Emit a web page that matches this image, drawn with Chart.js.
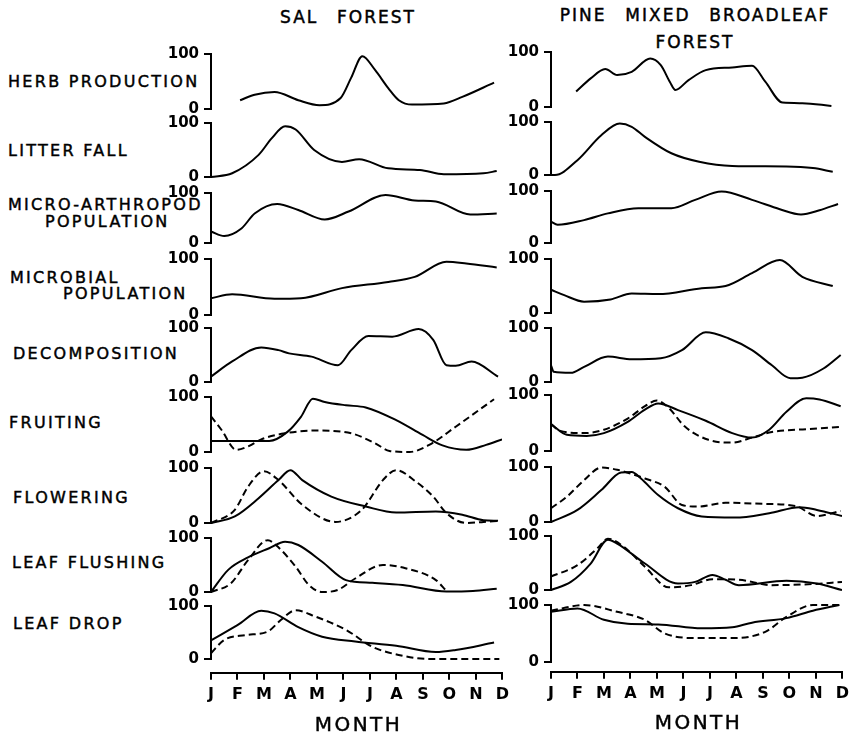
<!DOCTYPE html>
<html>
<head>
<meta charset="utf-8">
<script src="https://cdn.jsdelivr.net/npm/chart.js@4.4.1/dist/chart.umd.min.js"></script>
<style>
  html, body { margin: 0; padding: 0; background: #fff; }
  #page { position: relative; width: 852px; height: 737px; overflow: hidden; background: #fff;
          font-family: 'DejaVu Sans', sans-serif; color: #000; }
  .txt { position: absolute; white-space: pre; font-weight: normal; -webkit-text-stroke: 0.45px #000; }
  .panel { position: absolute; }
  .panel canvas { display: block; }
</style>
</head>
<body>
<div id="page"></div>
<script>
// ---- axis labels -------------------------------------------------------
const months = ['J', 'F', 'M', 'A', 'M', 'J', 'J', 'A', 'S', 'O', 'N', 'D'];
const yTicks = [0, 100];
const rowTitles = [
  ['HERB PRODUCTION'], ['LITTER FALL'], ['MICRO-ARTHROPOD', 'POPULATION'],
  ['MICROBIAL', 'POPULATION'], ['DECOMPOSITION'], ['FRUITING'], ['FLOWERING'],
  ['LEAF FLUSHING'], ['LEAF DROP']
];
const columnTitles = [['SAL  FOREST'], ['PINE  MIXED  BROADLEAF', 'FOREST']];

// ---- relative values (% of maximum), as [month position, value] --------
// month position: 0 = January ... 11 = December
// Sal forest
const salHerb = [[1.1,16],[1.65,26],[2.4,31],[3.3,16],[4.1,7],[4.9,20],[5.3,57],[5.72,96],[6.2,71],[6.7,38],[7.1,16],[7.6,8],[8.8,10],[9.5,22],[10.7,48]];
const salLitter = [[0,0],[0.8,7],[1.8,41],[2.3,72],[2.8,94],[3.2,88],[3.9,50],[4.95,28],[5.6,33],[6.7,16],[7.9,13],[8.8,5],[10.3,7],[10.8,11]];
const salArthropod = [[0,23],[0.5,14],[1.15,29],[1.65,59],[2.5,78],[3.3,66],[4.3,47],[5.2,63],[6.6,96],[7.7,85],[8.5,83],[9.8,57],[10.8,59]];
const salMicrobial = [[0,30],[0.8,37],[2.4,29],[3.4,30],[4.95,48],[6.7,59],[7.7,68],[8.9,95],[9.65,92],[10.8,85]];
const salDecomposition = [[0,10],[0.8,38],[1.9,64],[2.55,59],[2.95,53],[3.8,47],[4.8,31],[5.3,59],[5.95,85],[6.85,84],[7.85,98],[8.4,78],[8.9,31],[9.25,30],[9.85,38],[10.85,10]];
const salFruitingA = [[0,20],[2.2,20],[2.9,37],[3.4,64],[3.85,97],[4.3,91],[5.1,85],[5.85,81],[7,58],[8,31],[8.75,12],[9.65,4],[10.4,13],[11,23]];
const salFruitingB = [[0,65],[0.4,40],[0.95,4],[1.4,10],[1.9,23],[2.8,34],[3.95,39],[5.3,34],[6.2,16],[6.75,2],[7.5,0],[8.25,13],[9.25,46],[10.7,96]];
const salFloweringA = [[0,0],[0.9,12],[1.8,45],[2.55,78],[3,96],[3.45,78],[4.55,48],[5.85,30],[7,19],[8.5,21],[9.5,15],[10.3,5],[10.85,4]];
const salFloweringB = [[0,0],[0.9,24],[1.4,66],[2,94],[2.55,78],[3.45,33],[4.7,2],[5.7,24],[6.5,78],[7,96],[7.75,75],[8.4,48],[8.9,18],[9.65,0],[10.3,2],[10.85,4]];
const salFlushingA = [[0,0],[0.65,41],[1.4,64],[2.2,81],[2.8,93],[3.3,87],[4.2,56],[5.1,22],[6.1,17],[7.25,13],[8.9,1],[9.9,2],[10.8,6]];
const salFlushingB = [[0,0],[0.75,16],[1.4,59],[2.15,96],[2.45,87],[3.2,47],[3.7,13],[4.2,0],[4.8,4],[5.45,25],[6.5,50],[7.35,44],[8.5,22],[8.9,2]];
const salLeafDropA = [[0,35],[1,64],[1.9,91],[2.4,86],[3.3,60],[4.2,42],[5.45,33],[7,25],[8.5,13],[9.25,17],[10.7,31]];
const salLeafDropB = [[0,11],[0.5,36],[1.3,45],[2.15,52],[2.65,74],[3.2,92],[3.95,80],[5.1,55],[6.1,23],[7.25,6],[8.25,0],[10.9,0]];
// Pine mixed broadleaf forest
const pineHerb = [[0.95,28],[1.5,52],[2.05,69],[2.5,58],[3.05,64],[3.75,88],[4.15,76],[4.5,45],[4.7,31],[5.2,49],[5.85,67],[6.85,72],[7.6,75],[8.1,46],[8.75,8],[9.5,7],[10.6,2]];
const pineLitter = [[0,0],[0.15,0],[1,28],[1.9,75],[2.6,97],[3.05,91],[3.55,72],[4.55,41],[5.6,25],[6.85,17],[8.9,16],[9.9,13],[10.65,6]];
const pineArthropod = [[0,41],[0.25,35],[1.25,44],[2.15,57],[3.3,67],[4.55,67],[5.45,83],[6.45,99],[7.6,83],[8.65,65],[9.45,55],[10.15,63],[10.85,75]];
const pineMicrobial = [[0,43],[0.5,33],[1.25,21],[2.25,25],[3.05,36],[4.05,35],[5.7,46],[6.6,50],[7.6,74],[8.65,98],[9.5,67],[10.65,50]];
const pineDecomposition = [[0,31],[0.1,19],[0.75,17],[1.25,28],[2.15,47],[3.05,42],[4.15,44],[4.95,59],[5.85,92],[6.7,81],[7.6,59],[8.35,31],[9.05,7],[9.5,8],[10.3,25],[10.95,50]];
const pineFruitingA = [[0,48],[0.6,29],[1.35,27],[2,32],[2.9,52],[3.55,74],[4.05,85],[4.8,73],[5.85,54],[6.85,32],[7.6,24],[8.25,38],[8.9,70],[9.65,94],[10.15,92],[10.95,80]];
const pineFruitingB = [[0,48],[0.35,36],[1.25,32],[2,38],[2.9,58],[3.55,80],[4,90],[4.45,77],[5.05,44],[5.95,20],[6.85,15],[7.6,24],[8.35,34],[9.65,39],[10.95,43]];
const pineFloweringA = [[0,0],[1,22],[1.9,58],[2.65,90],[3.05,91],[3.4,79],[4.05,49],[4.8,25],[5.7,10],[6.95,8],[8.25,16],[9.4,27],[10.05,22],[11,11]];
const pineFloweringB = [[0,25],[0.6,46],[1.25,76],[1.9,99],[2.5,95],[3.55,79],[4.3,64],[4.95,31],[5.55,28],[6.6,35],[8,33],[9.25,29],[10.05,11],[10.95,20]];
const pineFlushingA = [[0,0],[0.75,15],[1.5,49],[2.15,93],[2.5,86],[3.55,49],[4.8,12],[5.45,15],[6.1,28],[6.6,19],[7.1,9],[8.9,17],[10.05,12],[11,0]];
const pineFlushingB = [[0,25],[1,46],[1.75,77],[2.15,95],[2.75,80],[3.55,43],[4.45,5],[5.3,9],[6.1,20],[7.1,19],[8.35,9],[9.9,11],[11,15]];
const pineLeafDropA = [[0,88],[1,94],[2,74],[2.9,67],[4.05,66],[5.7,59],[6.85,61],[7.6,69],[8.9,77],[9.9,90],[10.9,100]];
const pineLeafDropB = [[0,90],[1.25,100],[2.5,88],[3.55,74],[4.3,50],[5.55,42],[6.95,42],[8.1,53],[8.9,79],[9.9,100],[10.9,100]];

const salRows = [
  [salHerb], [salLitter], [salArthropod], [salMicrobial], [salDecomposition],
  [salFruitingA, salFruitingB], [salFloweringA, salFloweringB],
  [salFlushingA, salFlushingB], [salLeafDropA, salLeafDropB]
];
const pineRows = [
  [pineHerb], [pineLitter], [pineArthropod], [pineMicrobial], [pineDecomposition],
  [pineFruitingA, pineFruitingB], [pineFloweringA, pineFloweringB],
  [pineFlushingA, pineFlushingB], [pineLeafDropA, pineLeafDropB]
];

// ---- page layout (pixels) ----------------------------------------------
const columns = [
  { left: 211, right: 502, axisY: 673, monthY: 724,
    bands: [[54,109],[123,177],[193,243],[259,315],[328,382],[397,452],[468,523],[538,592],[606,659]],
    rows: salRows, titleX: 348, titleY: [17] },
  { left: 551, right: 842, axisY: 672, monthY: 722,
    bands: [[52,107],[122,175],[191,243],[259,313],[328,382],[395,451],[467,522],[536,590],[605,662]],
    rows: pineRows, titleX: 695, titleY: [15, 42] }
];
const rowTitlePos = [
  [[8, 82]], [[8, 151]], [[8, 205], [45, 222]], [[10, 278], [63, 294]], [[13, 354]],
  [[9, 423]], [[13, 498]], [[12, 563]], [[13, 624]]
];

const FONT = "'DejaVu Sans', sans-serif";
const page = document.getElementById('page');
Chart.defaults.font.family = FONT;
Chart.defaults.color = '#000';

function addText(str, x, cy, size, spacing, centred, wordSpacing) {
  const d = document.createElement('div');
  d.className = 'txt';
  d.textContent = str;
  d.style.fontSize = size + 'px';
  d.style.lineHeight = size + 'px';
  d.style.letterSpacing = spacing + 'px';
  if (wordSpacing) d.style.wordSpacing = wordSpacing + 'px';
  d.style.top = (cy - size / 2) + 'px';
  d.style.left = x + 'px';
  if (centred) d.style.transform = 'translateX(-50%)';
  page.appendChild(d);
}

// Build a chart whose plotting area lands exactly on the given box.
function placeChart(box, makeConfig) {
  const wrap = document.createElement('div');
  wrap.className = 'panel';
  const cv = document.createElement('canvas');
  wrap.appendChild(cv);
  page.appendChild(wrap);
  const bw = box.right - box.left, bh = box.bottom - box.top;
  let W = bw + 120, H = bh + 60;
  cv.width = W; cv.height = H;
  let chart = new Chart(cv, makeConfig());
  const a = chart.chartArea;
  const ml = a.left, mt = a.top, mr = W - a.right, mb = H - a.bottom;
  chart.destroy();
  W = Math.round(ml + bw + mr); H = Math.round(mt + bh + mb);
  cv.width = W; cv.height = H;
  cv.style.width = W + 'px'; cv.style.height = H + 'px';
  chart = new Chart(cv, makeConfig());
  const b = chart.chartArea;
  wrap.style.left = (box.left - b.left) + 'px';
  wrap.style.top = (box.top - b.top) + 'px';
  return chart;
}

const baseOptions = () => ({
  responsive: false,
  maintainAspectRatio: false,
  devicePixelRatio: 1,
  animation: false,
  events: [],
  layout: { padding: 0 },
  plugins: { legend: { display: false }, tooltip: { enabled: false }, title: { display: false } }
});

function panelConfig(seriesList) {
  return () => {
    const opts = baseOptions();
    opts.scales = {
      x: { type: 'linear', min: 0, max: 11, display: false },
      y: {
        type: 'linear', min: 0, max: 100,
        afterBuildTicks: s => { s.ticks = yTicks.map(v => ({ value: v })); },
        afterFit: s => { s.width = 46; },
        border: { display: true, color: '#000', width: 2 },
        grid: { drawOnChartArea: false, drawTicks: true, tickLength: 7, color: '#000', lineWidth: 2 },
        ticks: { color: '#000', font: { family: FONT, size: 15, weight: '600' }, padding: 5, autoSkip: false }
      }
    };
    return {
      type: 'line',
      data: {
        datasets: seriesList.map((s, i) => ({
          data: s.map(([x, y]) => ({ x, y })),
          borderColor: '#000',
          borderWidth: 2,
          borderDash: i === 0 ? [] : [7, 4],
          pointRadius: 0,
          fill: false,
          cubicInterpolationMode: 'monotone',
          clip: 6
        }))
      },
      options: opts
    };
  };
}

function monthAxisConfig() {
  return () => {
    const opts = baseOptions();
    opts.scales = {
      x: {
        type: 'linear', min: 0, max: 11, position: 'bottom',
        afterBuildTicks: s => { s.ticks = months.map((m, i) => ({ value: i })); },
        border: { display: true, color: '#000', width: 2 },
        grid: { drawOnChartArea: false, drawTicks: true, tickLength: 7, color: '#000', lineWidth: 2 },
        ticks: {
          color: '#000', font: { family: FONT, size: 16, weight: '600' }, padding: 5, autoSkip: false, maxRotation: 0,
          callback: v => months[Math.round(v)]
        }
      },
      y: { type: 'linear', min: 0, max: 1, display: false }
    };
    return { type: 'line', data: { datasets: [] }, options: opts };
  };
}

// row titles
rowTitles.forEach((lines, r) => {
  lines.forEach((t, k) => {
    const [x, cy] = rowTitlePos[r][k];
    addText(t, x, cy, 16, 2.3, false);
  });
});

columns.forEach((col, c) => {
  columnTitles[c].forEach((t, k) => addText(t, col.titleX, col.titleY[k], 17, 2, true, 2));
  col.rows.forEach((series, r) => {
    const [top, bottom] = col.bands[r];
    placeChart({ left: col.left, right: col.right, top, bottom }, panelConfig(series));
  });
  // the month axis sits in its own chart below the last panel
  placeChart({ left: col.left, right: col.right, top: col.axisY - 60, bottom: col.axisY }, monthAxisConfig());
  addText('MONTH', (col.left + col.right) / 2 + 2, col.monthY, 20, 2.5, true);
});
</script>
</body>
</html>
